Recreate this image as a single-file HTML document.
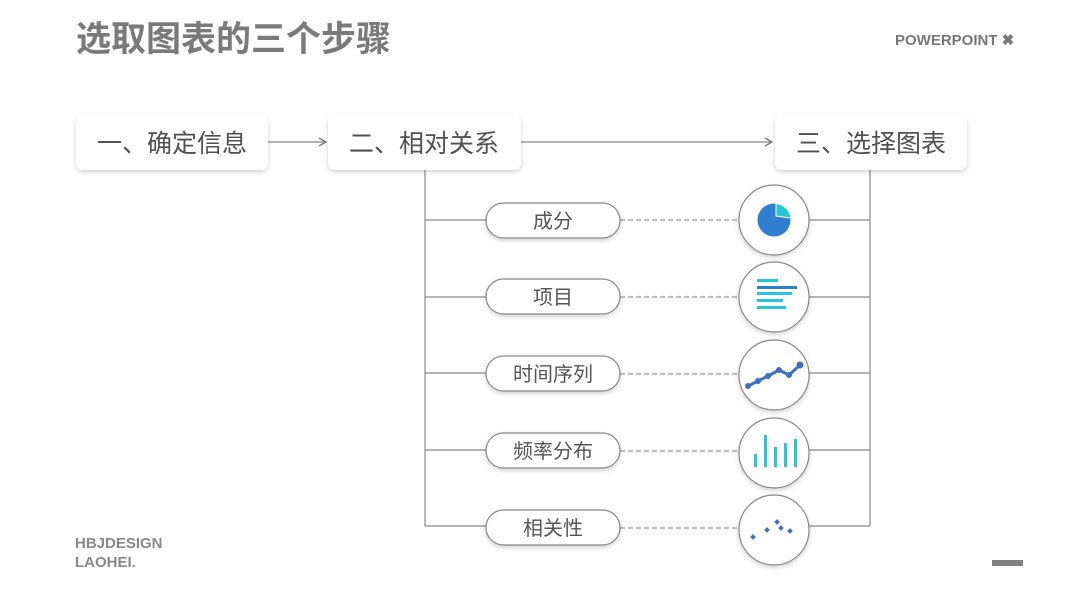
<!DOCTYPE html>
<html><head><meta charset="utf-8">
<style>
html,body{margin:0;padding:0;background:#fff;}
body{width:1080px;height:608px;overflow:hidden;}
svg text{font-family:"Liberation Sans","Noto Sans CJK SC",sans-serif;}
</style></head>
<body>
<svg width="1080" height="608" viewBox="0 0 1080 608" xmlns="http://www.w3.org/2000/svg">
<defs>
<filter id="sh" x="-20%" y="-30%" width="140%" height="170%">
<feDropShadow dx="0" dy="2" stdDeviation="2.5" flood-color="#000" flood-opacity="0.18"/>
</filter>
<marker id="ar" markerWidth="10" markerHeight="10" refX="8" refY="5" orient="auto" markerUnits="userSpaceOnUse">
<path d="M1,1 L8,5 L1,9" fill="none" stroke="#777" stroke-width="1.3"/>
</marker>
</defs>
<text x="76" y="51" font-size="35" font-weight="bold" fill="#7a7a7a">选取图表的三个步骤</text>
<text x="895" y="45" font-size="15" font-weight="bold" fill="#777">POWERPOINT ✖</text>
<text x="75" y="548" font-size="15" font-weight="bold" fill="#888">HBJDESIGN</text>
<text x="75" y="567" font-size="15" font-weight="bold" fill="#888">LAOHEI.</text>
<rect x="992" y="560" width="31" height="6" fill="#808080"/>

<g stroke="#888" stroke-width="1.2" fill="none">
<line x1="268" y1="142" x2="326" y2="142" marker-end="url(#ar)"/>
<line x1="521" y1="142" x2="772" y2="142" marker-end="url(#ar)"/>
<polyline points="425,170 425,526"/>
<polyline points="870,170 870,526"/>
<line x1="425" y1="220" x2="486" y2="220"/>
<line x1="425" y1="297" x2="486" y2="297"/>
<line x1="425" y1="373" x2="486" y2="373"/>
<line x1="425" y1="450" x2="486" y2="450"/>
<line x1="425" y1="526" x2="486" y2="526"/>
<line x1="808" y1="220" x2="870" y2="220"/>
<line x1="808" y1="297" x2="870" y2="297"/>
<line x1="808" y1="373" x2="870" y2="373"/>
<line x1="808" y1="450" x2="870" y2="450"/>
<line x1="808" y1="526" x2="870" y2="526"/>
</g>
<g stroke="#c0c0c0" stroke-width="2.2" stroke-dasharray="5,3">
<line x1="620" y1="220" x2="739" y2="220"/>
<line x1="620" y1="297" x2="739" y2="297"/>
<line x1="620" y1="374" x2="739" y2="374"/>
<line x1="620" y1="451" x2="739" y2="451"/>
<line x1="620" y1="528" x2="739" y2="528"/>
</g>

<g filter="url(#sh)" fill="#fff">
<rect x="76" y="115" width="192" height="55" rx="7"/>
<rect x="328" y="115" width="193" height="55" rx="7"/>
<rect x="775" y="115" width="192" height="55" rx="7"/>
</g>
<g font-size="25" fill="#505050" text-anchor="middle">
<text x="172" y="152">一、确定信息</text>
<text x="424" y="152">二、相对关系</text>
<text x="871" y="152">三、选择图表</text>
</g>

<g fill="#fff" stroke="#888" stroke-width="1.2" filter="url(#sh)">
<rect x="486" y="203" width="134" height="35" rx="17.5"/>
<rect x="486" y="279" width="134" height="35" rx="17.5"/>
<rect x="486" y="356" width="134" height="35" rx="17.5"/>
<rect x="486" y="433" width="134" height="35" rx="17.5"/>
<rect x="486" y="510" width="134" height="35" rx="17.5"/>
<circle cx="774" cy="220" r="35"/>
<circle cx="774" cy="297" r="35"/>
<circle cx="774" cy="375" r="35"/>
<circle cx="774" cy="453" r="35"/>
<circle cx="774" cy="530" r="35"/>
</g>
<g font-size="20" fill="#555" text-anchor="middle">
<text x="553" y="228">成分</text>
<text x="553" y="304">项目</text>
<text x="553" y="381">时间序列</text>
<text x="553" y="458">频率分布</text>
<text x="553" y="535">相关性</text>
</g>

<circle cx="774" cy="220" r="16.5" fill="#2f7fd0"/>
<path d="M776,203.5 A16.5,16.5 0 0 1 791,218 L776,216 Z" fill="#26c6d8" stroke="#fff" stroke-width="1"/>
<g fill="#26c6d8">
<rect x="757" y="279" width="21" height="3"/>
<rect x="757" y="292" width="35" height="3"/>
<rect x="757" y="299" width="26" height="3"/>
<rect x="757" y="306" width="29" height="3"/>
</g>
<rect x="757" y="286" width="40" height="3" fill="#2f7fd0"/>
<polyline points="748,386 758,381 768,376 779,370 789,375 800,365" fill="none" stroke="#3e6fc0" stroke-width="3"/>
<g fill="#3e6fc0">
<circle cx="748" cy="386" r="3"/><circle cx="758" cy="381" r="3"/><circle cx="768" cy="376" r="3"/>
<circle cx="779" cy="370" r="3"/><circle cx="789" cy="375" r="3"/><circle cx="800" cy="365" r="3.5"/>
</g>
<g fill="#26c6d8">
<rect x="754" y="454" width="3" height="13"/>
<rect x="764" y="435" width="3" height="32"/>
<rect x="774" y="447" width="3" height="20"/>
<rect x="784" y="443" width="3" height="24"/>
<rect x="794" y="439" width="3" height="28"/>
</g>
<g fill="#3e6fc0">
<rect x="751" y="535" width="4" height="4" transform="rotate(45 753 537)"/>
<rect x="765" y="528" width="4" height="4" transform="rotate(45 767 530)"/>
<rect x="775" y="520" width="4" height="4" transform="rotate(45 777 522)"/>
<rect x="779" y="526" width="4" height="4" transform="rotate(45 781 528)"/>
<rect x="788" y="529" width="4" height="4" transform="rotate(45 790 531)"/>
</g>
</svg>
</body></html>
